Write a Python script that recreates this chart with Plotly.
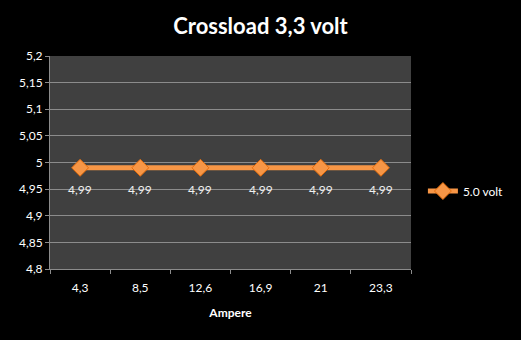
import plotly.graph_objects as go

categories = ["4,3", "8,5", "12,6", "16,9", "21", "23,3"]
values = [4.99, 4.99, 4.99, 4.99, 4.99, 4.99]
value_labels = ["4,99", "4,99", "4,99", "4,99", "4,99", "4,99"]
y_tickvals = [4.8, 4.85, 4.9, 4.95, 5.0, 5.05, 5.1, 5.15, 5.2]
y_ticktext = ["4,8", "4,85", "4,9", "4,95", "5", "5,05", "5,1", "5,15", "5,2"]
series_name = "5.0 volt"

fig = go.Figure()
fig.add_trace(go.Scatter(
    x=categories, y=values, name=series_name,
    mode="lines+markers",
    line=dict(color="#F79646", width=5),
    marker=dict(symbol="diamond", size=13, color="#F79646",
                line=dict(color="#E46C0A", width=1)),
))

for i, (v, t) in enumerate(zip(values, value_labels)):
    fig.add_annotation(x=i, y=v, text=t, showarrow=False, yshift=-22,
                       font=dict(size=12, color="#f0f0f0", family="Lato"))

fig.update_layout(
    width=521, height=340,
    paper_bgcolor="black", plot_bgcolor="#404040",
    margin=dict(l=50, r=103, t=56, b=71),
    font=dict(family="Lato", color="white", size=12),
    title=dict(text="<b>Crossload 3,3 volt</b>", x=0.5, xanchor="center",
               y=0.923, yanchor="middle", font=dict(size=22, color="white")),
    showlegend=True,
    legend=dict(x=1.033, xanchor="left", y=0.366, yanchor="middle",
                font=dict(size=12, color="white"), bgcolor="rgba(0,0,0,0)",
                itemwidth=30),
    xaxis=dict(type="category", showgrid=False, ticks="outside", tickson="boundaries",
               ticklen=4, tickcolor="#8c8c8c", showline=True, linecolor="#8c8c8c",
               tickfont=dict(size=12, color="white"), ticklabelstandoff=8,
               title=dict(text="<b>Ampere</b>", font=dict(size=12, color="white"), standoff=14),
               range=[-0.5, 5.5]),
    yaxis=dict(range=[4.8, 5.2], tickvals=y_tickvals, ticktext=y_ticktext,
               showgrid=True, gridcolor="#8c8c8c", gridwidth=1,
               ticks="outside", ticklen=4, tickcolor="#8c8c8c",
               showline=True, linecolor="#8c8c8c", zeroline=False,
               tickfont=dict(size=12, color="white")),
)

fig.write_html("out.html")
